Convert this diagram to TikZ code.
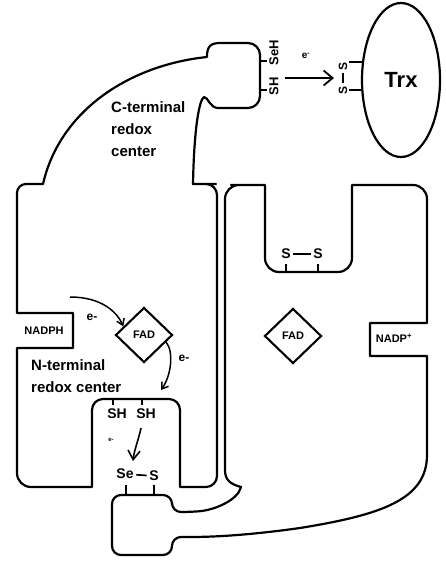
\documentclass[tikz,border=0pt]{standalone}
\usepackage{fontspec}
\setmainfont{Liberation Sans}
\usetikzlibrary{arrows.meta,positioning,calc,shapes.geometric}

\begin{document}
\begin{tikzpicture}[x=1pt,y=-1pt,
 outline/.style={line width=2.2pt,line join=round},
 tick/.style={line width=1.3pt},
 bond/.style={line width=1.7pt,shorten <=1.5pt,shorten >=1.5pt},
 lab/.style={font=\bfseries\fontsize{15}{22}\selectfont,align=left,inner sep=0pt},
 sm/.style={font=\bfseries\fontsize{11}{13}\selectfont,inner sep=1pt},
 atom/.style={font=\bfseries\fontsize{14}{16}\selectfont,inner sep=1pt},
 fad/.style={draw,diamond,line width=2.1pt,minimum width=57pt,minimum height=55pt,inner sep=0pt,font=\bfseries\fontsize{11}{13}\selectfont},
 earr/.style={line width=1.5pt,-{Straight Barb[length=6pt,width=8pt]}},
 varr/.style={line width=1.6pt,-{Straight Barb[length=9pt,width=12pt]}},
 bigarr/.style={line width=1.8pt,-{Straight Barb[length=9pt,width=15pt]}}]
\useasboundingbox (0,0) rectangle (446,563);

% left subunit with C-terminal arm
\draw[outline] (43,184) [rounded corners=9] -- (17,184) -- (17,260) [sharp corners] -- (17,313) -- (73,313) -- (73,348) -- (17,348) -- (17,400)
 [rounded corners=14] -- (17,487) -- (60,487) [sharp corners] -- (92,487) -- (92,440)
 [rounded corners=11] -- (92,399) -- (180,399) -- (180,440) [sharp corners] -- (180,487) -- (200,487)
 [rounded corners=11] -- (217,487) -- (217,184) -- (205,184) [sharp corners] -- (193,184)
 .. controls (194,130) and (199,100) .. (204,97) .. controls (208,97) and (210,108) .. (218,108) -- (235,108)
 [rounded corners=12] -- (260,108) -- (260,43) -- (235,43) [sharp corners] -- (220,43)
 .. controls (210,43) and (207,47) .. (207,57) .. controls (130,65) and (60,110) .. cycle;

% right subunit with its C-terminal tail
\draw[outline] (225,470) [rounded corners=14] -- (225,185) -- (245,185) [sharp corners] -- (265,185) -- (265,240)
 [rounded corners=14] -- (265,272) -- (352,272) -- (352,240) [sharp corners] -- (352,185) -- (400,185)
 [rounded corners=14] -- (427,185) -- (427,300) [sharp corners] -- (427,323) -- (370,323) -- (370,356) -- (427,356) -- (427,455)
 .. controls (427,500) and (380,515) .. (300,528) .. controls (250,535) and (215,537) .. (190,537)
 [rounded corners=9] -- (172,537) -- (172,555) -- (112,555) -- (112,495) -- (172,495) -- (172,512) -- (190,512)
 [sharp corners] .. controls (215,510) and (238,500) .. (241,487) .. controls (230,484) and (225,480) .. cycle;

% Trx
\node[draw,ellipse,line width=2.2pt,minimum width=78pt,minimum height=154pt,inner sep=0pt,
 font=\bfseries\fontsize{22}{24}\selectfont] (trx) at (401,80) {Trx};
\node[atom,font=\bfseries\fontsize{12}{14}\selectfont,rotate=90] (tS1) at (343,66) {S};
\node[atom,font=\bfseries\fontsize{12}{14}\selectfont,rotate=90] (tS2) at (343,90) {S};
\draw[bond] (tS1) -- (tS2);
\draw[tick] (349,62) -- (363,62);
\draw[tick] (349,90) -- (362,90);

% C-terminal redox center
\node[lab,anchor=west] (cterm) at (111,129) {C-terminal\\redox\\center};
\draw[tick] (260,61) -- (267,61);
\draw[tick] (260,90) -- (267,90);
\node[atom,font=\bfseries\fontsize{13}{15}\selectfont,rotate=90] (seh) at (274,53) {SeH};
\node[atom,font=\bfseries\fontsize{13}{15}\selectfont,rotate=90] (sh) at (274,86) {SH};
\coordinate (tA) at (285,78);
\coordinate (tB) at (334,78);
\draw[bigarr] (tA) -- (tB);
\node[sm,font=\bfseries\fontsize{10}{12}\selectfont] (eTop) at (306,56) {e\textsuperscript{-}};

% N-terminal side
\node[sm] (nadph) at (44,331) {NADPH};
\node[fad] (fadN) at (144,335) {FAD};
\node[fad] (fadC) at (293,336) {FAD};
\node[sm] (nadp) at (394,338) {NADP\textsuperscript{+}};
\node[lab,anchor=west] (nterm) at (31,376) {N-terminal\\redox center};

\coordinate (nIn) at (70,297);
\draw[earr] (nIn) .. controls +(32,0) and +(-6,-14) .. ($(fadN.west)!0.3!(fadN.north)$);
\node[sm,font=\bfseries\fontsize{12}{14}\selectfont] (e1) at (92,317) {e-};
\coordinate (nOut) at (161,390);
\draw[earr] ($(fadN.east)!0.25!(fadN.south)$) .. controls +(8,10) and +(10,-14) .. (nOut);
\node[sm,font=\bfseries\fontsize{12}{14}\selectfont] (e2) at (184,358) {e-};

% thiol pair and selenenylsulfide
\draw[tick] (113,399) -- (113,405);
\draw[tick] (142,399) -- (142,405);
\node[atom] (shL) at (117,414) {SH};
\node[atom] (shR) at (146,414) {SH};
\coordinate (cSH) at (141,428);
\coordinate (cSe) at (133,461);
\draw[varr] (cSH) .. controls +(-2,10) and +(1,-10) .. (cSe);
\node[sm,font=\bfseries\fontsize{6}{7}\selectfont] (e3) at (111,440) {e-};
\node[atom] (se) at (125,474) {Se};
\node[atom] (sSe) at (154,476) {S};
\draw[bond] (se) -- (sSe);
\draw[tick] (126,495) -- (126,485);
\draw[tick] (154,495) -- (154,485);

% disulfide of the right subunit
\node[atom] (sA) at (286,254) {S};
\node[atom] (sB) at (318,254) {S};
\draw[bond] (sA) -- (sB);
\draw[tick] (286,272) -- (286,264);
\draw[tick] (318,272) -- (318,264);
\end{tikzpicture}
\end{document}
